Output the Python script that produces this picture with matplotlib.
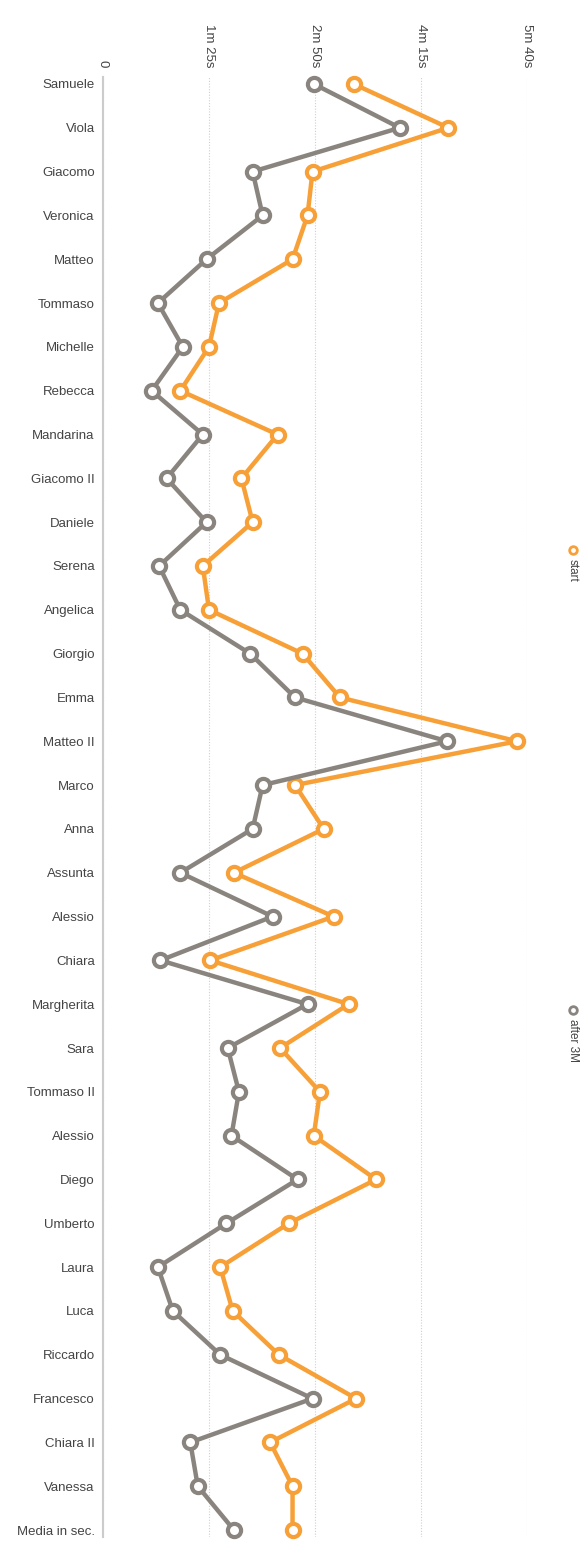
import matplotlib
matplotlib.use('Agg')
import matplotlib.pyplot as plt
from matplotlib.lines import Line2D

plt.rcParams['font.family'] = ['Liberation Sans', 'DejaVu Sans']

# names in chart order (top to bottom)
names = ['Samuele', 'Viola', 'Giacomo', 'Veronica', 'Matteo', 'Tommaso', 'Michelle',
         'Rebecca', 'Mandarina', 'Giacomo II', 'Daniele', 'Serena', 'Angelica',
         'Giorgio', 'Emma', 'Matteo II', 'Marco', 'Anna', 'Assunta', 'Alessio',
         'Chiara', 'Margherita', 'Sara', 'Tommaso II', 'Alessio', 'Diego', 'Umberto',
         'Laura', 'Luca', 'Riccardo', 'Francesco', 'Chiara II', 'Vanessa', 'Media in sec.']

# times in seconds
start = [201, 277, 168, 164, 152, 93, 85, 62, 140, 111, 120, 80, 85,
         160, 190, 332, 154, 177, 105, 185, 86, 197, 142, 174, 169, 219, 149,
         94, 104, 141, 203, 134, 152, 152]
after_3m = [169, 238, 120, 128, 83, 44, 64, 39, 80, 51, 83, 45, 62,
            118, 154, 276, 128, 120, 62, 136, 46, 164, 100, 109, 103, 156, 99,
            44, 56, 94, 168, 70, 76, 105]

tick_vals = [0, 85, 170, 255, 340]
tick_labels = ['0', '1m 25s', '2m 50s', '4m 15s', '5m 40s']

orange = '#F7A038'
gray = '#8A847F'

W, H = 584, 1546
fig = plt.figure(figsize=(W / 100, H / 100), dpi=100)
ax = fig.add_axes([103 / W, 1 - 1536.6 / H, (527 - 103) / W, (1536.6 - 77.4) / H])

y = list(range(len(names)))
style = dict(lw=3.2, marker='o', ms=9.5, mew=3, mfc='white', clip_on=False)
ax.plot(start, y, color=orange, mec=orange, zorder=3, **style)
ax.plot(after_3m, y, color=gray, mec=gray, zorder=4, **style)

ax.set_xlim(0, 340)
ax.set_ylim(len(names) - 1 + 0.15, -0.15)

ax.xaxis.tick_top()
ax.set_xticks(tick_vals)
ax.set_xticklabels(tick_labels, rotation=-90, fontsize=9.5, color='#444444')
ax.set_yticks(y)
ax.set_yticklabels(names, fontsize=9.5, color='#444444')
ax.tick_params(axis='both', length=0)
ax.tick_params(axis='x', pad=7)
ax.tick_params(axis='y', pad=6)

ax.grid(axis='x', color='#cfcfcf', lw=0.8, ls=(0, (1, 1.5)))
ax.set_axisbelow(True)
for s in ['top', 'right', 'bottom']:
    ax.spines[s].set_visible(False)
ax.spines['left'].set_color('#cccccc')
ax.spines['left'].set_linewidth(1.5)

# rotated legend on the right
for label, col, ypx in [('start', orange, 550), ('after 3M', gray, 1010)]:
    fig.add_artist(Line2D([573 / W], [1 - ypx / H], marker='o', ms=5.5, mew=2,
                          mfc='white', mec=col, transform=fig.transFigure))
    fig.text(573 / W, 1 - (ypx + 9) / H, label, rotation=-90, ha='center', va='top',
             fontsize=8.5, color='#444444')

fig.savefig('out.png', dpi=100)
